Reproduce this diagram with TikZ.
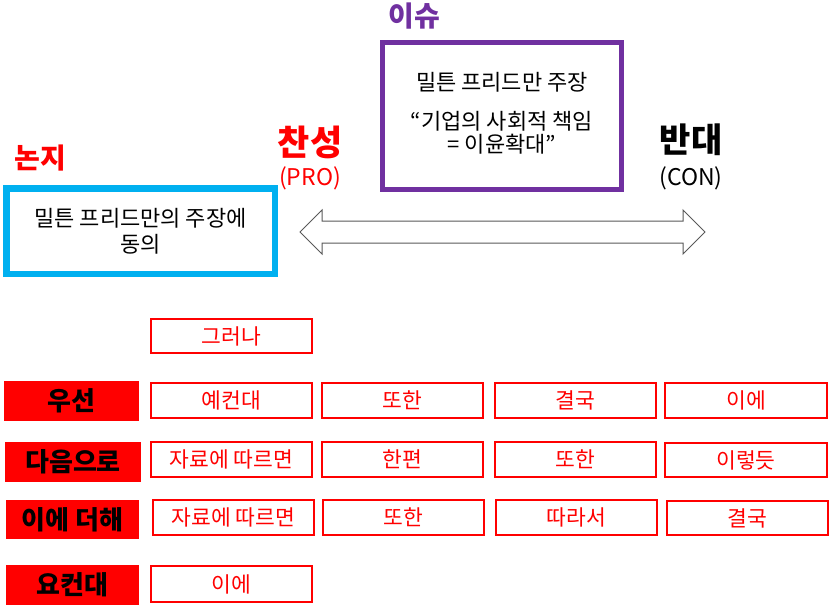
\documentclass[tikz,border=0pt]{standalone}
\usepackage{fontspec}
\setmainfont{Noto Sans CJK KR}
\definecolor{issuepurple}{RGB}{112,48,160}
\definecolor{thesisblue}{RGB}{0,176,240}
\definecolor{arrowgray}{RGB}{89,89,89}
\begin{document}
\begin{tikzpicture}[x=1pt,y=-1pt,
  box/.style={draw=red, line width=1.5pt, text=red, font=\fontsize{21.5}{24}\selectfont,
    minimum width=161pt, minimum height=35pt, inner sep=0pt},
  lab/.style={fill=red, text=black, font=\bfseries\fontsize{26}{28}\selectfont,
    minimum width=135pt, minimum height=40pt, inner sep=0pt},
  head/.style={font=\bfseries\fontsize{#1}{#1}\selectfont, inner sep=0pt},
  sub/.style={font=\fontsize{23}{25}\selectfont, inner sep=0pt},
  bodytext/.style={font=\fontsize{22}{#1}\selectfont, align=center, inner sep=0pt}]
\useasboundingbox (0,0) rectangle (832,607);

% headings
\node[head=28, text=issuepurple] (issue) at (414,16) {이슈};
\node[head=35, text=red] (pro) at (310,142) {찬성};
\node[sub, text=red] (prosub) at (310,178) {(PRO)};
\node[head=34, text=black] (con) at (691,140) {반대};
\node[sub, text=black] (consub) at (691,178) {(CON)};
\node[head=28, text=red] (thesis) at (40,158) {논지};

% issue box
\node[draw=issuepurple, line width=5pt, minimum width=239pt, minimum height=146pt] (issuebox) at (502,116) {};
\node[bodytext=23pt] (issuetext) at (502,113) {밀튼 프리드만 주장\\[16pt]“기업의 사회적 책임\\= 이윤확대”};

% thesis box
\node[draw=thesisblue, line width=6.5pt, minimum width=268.5pt, minimum height=85.5pt,
  bodytext=26pt] (thesisbox) at (140.5,231) {밀튼 프리드만의 주장에\\동의};

% double arrow
\draw[draw=arrowgray, line width=1pt, fill=white, line join=miter]
  (300,232) -- (322,210) -- (322,221) -- (683,221) -- (683,210) -- (705,232)
  -- (683,254) -- (683,243) -- (322,243) -- (322,254) -- cycle;

% row 0
\node[box, minimum height=34pt] (r0c1) at (231.5,336) {그러나};

% row 1
\node[lab] (l1) at (71.5,401) {우선};
\node[box] (r1c1) at (231.5,400.5) {예컨대};
\node[box] (r1c2) at (402.5,400.5) {또한};
\node[box] (r1c3) at (575.5,400.5) {결국};
\node[box, minimum width=162pt] (r1c4) at (746,400.5) {이에};

% row 2
\node[lab, minimum width=136pt] (l2) at (73,462) {다음으로};
\node[box] (r2c1) at (231.5,459.5) {자료에 따르면};
\node[box] (r2c2) at (402.5,459.5) {한편};
\node[box] (r2c3) at (575.5,459.5) {또한};
\node[box, minimum width=162pt, minimum height=34pt] (r2c4) at (746,460) {이렇듯};

% row 3
\node[lab, minimum width=133pt, minimum height=39pt] (l3) at (72.5,519.5) {이에 더해};
\node[box] (r3c1) at (233.5,517.5) {자료에 따르면};
\node[box] (r3c2) at (403.5,517.5) {또한};
\node[box] (r3c3) at (576.5,517.5) {따라서};
\node[box, minimum height=34pt] (r3c4) at (747.5,518) {결국};

% row 4
\node[lab, minimum width=133pt] (l4) at (72.5,585) {요컨대};
\node[box, minimum height=36pt] (r4c1) at (231.5,584) {이에};
\end{tikzpicture}
\end{document}
